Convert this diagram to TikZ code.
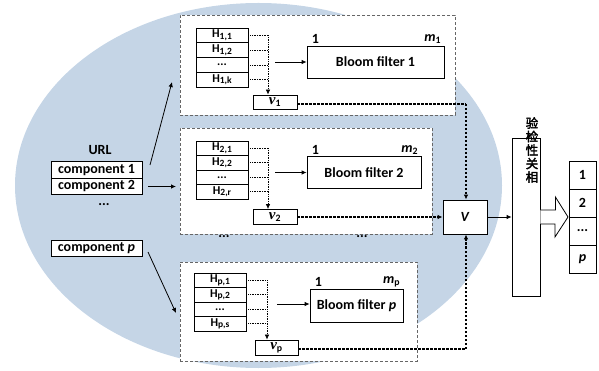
\documentclass[tikz,border=0pt]{standalone}
\usepackage{fontspec}
\setmainfont{Carlito}
\newfontfamily\vfont{Liberation Serif}
\newfontfamily\cjk[AutoFakeBold=2.5]{Noto Sans CJK SC}
\usetikzlibrary{arrows.meta,calc}

\definecolor{halo}{RGB}{197,213,230}

\tikzset{
  txt/.style={font=\fontsize{14}{15}\selectfont\bfseries},
  cell/.style={draw, line width=0.8pt, fill=white, inner sep=0pt, txt},
  hcell/.style={cell, minimum width=52, font=\fontsize{12}{12}\selectfont\bfseries},
  grp/.style={draw=black!60, dash pattern=on 3pt off 2pt, line width=0.7pt, fill=white, inner sep=0pt},
  hdots/.style={densely dotted, line width=0.7pt},
  link/.style={dash pattern=on 2.5pt off 1.5pt, line width=1.1pt},
  tip/.style={-{Latex[length=5pt,width=4.5pt]}},
  lbl/.style={inner sep=0pt, txt},
}

\newcommand{\msub}[1]{\textit{m}\textsubscript{#1}}
\newcommand{\vsub}[1]{{\vfont\itshape\fontsize{15}{16}\selectfont v}\textsubscript{#1}}
\newcommand{\hsub}[1]{H\raisebox{-0.25ex}{\fontsize{9.5}{9.5}\selectfont #1}}

\begin{document}
\begin{tikzpicture}[x=1pt,y=-1pt]
\useasboundingbox (0,0) rectangle (599,371);

% background halo
\fill[halo] (258.5,185.5) ellipse [x radius=243.5, y radius=182.5];

% group frames
\node[grp, minimum width=275, minimum height=100] (g1) at (317.5,65) {};
\node[grp, minimum width=252, minimum height=106] (g2) at (306,181) {};
\node[grp, minimum width=237, minimum height=99] (g3) at (298.5,311.5) {};

% ---------- group 1 ----------
\node[hcell, minimum height=14.75] (h11) at (222,35.4) {\hsub{1,1}};
\node[hcell, minimum height=14.75] (h12) at (222,50.1) {\hsub{1,2}};
\node[hcell, minimum height=14.75] (h13) at (222,64.9) {...};
\node[hcell, minimum height=14.75] (h14) at (222,79.6) {\hsub{1,k}};
\node[cell, minimum width=44, minimum height=14] (v1) at (275,102) {\vsub{1}};
\node[cell, minimum width=137, minimum height=32] (b1) at (375.5,62) {Bloom filter 1};
\node[lbl, anchor=south west] (b1l) at ($(b1.north west)+(5,-1.5)$) {1};
\node[lbl, anchor=south east] (b1r) at ($(b1.north east)+(-3,-1.5)$) {\msub{1}};
\coordinate (bus1) at (268,35.4);
\foreach \r in {h11,h12,h13,h14} \draw[hdots] (\r.east) -- (\r.east -| bus1);
\draw[hdots, tip] (bus1) -- (bus1 |- v1.north);
\coordinate (p1a) at (275,62);
\draw[tip, line width=0.8pt] (p1a) -- (b1.west);

% ---------- group 2 ----------
\node[hcell, minimum height=14.5] (h21) at (222,148.25) {\hsub{2,1}};
\node[hcell, minimum height=14.5] (h22) at (222,162.75) {\hsub{2,2}};
\node[hcell, minimum height=14.5] (h23) at (222,177.25) {...};
\node[hcell, minimum height=14.5] (h24) at (222,191.75) {\hsub{2,r}};
\node[cell, minimum width=44, minimum height=15] (v2) at (275,217) {\vsub{2}};
\node[cell, minimum width=114, minimum height=32] (b2) at (364,172.5) {Bloom filter 2};
\node[lbl, anchor=south west] (b2l) at ($(b2.north west)+(5,-1.5)$) {1};
\node[lbl, anchor=south east] (b2r) at ($(b2.north east)+(-3,-1.5)$) {\msub{2}};
\coordinate (bus2) at (268,148.25);
\foreach \r in {h21,h22,h23,h24} \draw[hdots] (\r.east) -- (\r.east -| bus2);
\draw[hdots, tip] (bus2) -- (bus2 |- v2.north);
\coordinate (p2a) at (275,172.5);
\draw[tip, line width=0.8pt] (p2a) -- (b2.west);

% ---------- group p ----------
\node[hcell, minimum height=14.5] (h31) at (220,280.25) {\hsub{p,1}};
\node[hcell, minimum height=14.5] (h32) at (220,294.75) {\hsub{p,2}};
\node[hcell, minimum height=14.5] (h33) at (220,309.25) {...};
\node[hcell, minimum height=14.5] (h34) at (220,323.75) {\hsub{p,s}};
\node[cell, minimum width=43, minimum height=15] (v3) at (276.5,347.5) {\vsub{p}};
\node[cell, minimum width=93, minimum height=33] (b3) at (356.5,305.5) {Bloom filter \textit{p}};
\node[lbl, anchor=south west] (b3l) at ($(b3.north west)+(5,-1.5)$) {1};
\node[lbl, anchor=south east] (b3r) at ($(b3.north east)+(-3,-1.5)$) {\msub{p}};
\coordinate (bus3) at (267,280.25);
\foreach \r in {h31,h32,h33,h34} \draw[hdots] (\r.east) -- (\r.east -| bus3);
\draw[hdots, tip] (bus3) -- (bus3 |- v3.north);
\coordinate (p3a) at (277,304);
\draw[tip, line width=0.8pt] (p3a) -- (b3.west |- p3a);

% elision marks between groups
\node[lbl] (e1) at (224,236.5) {...};
\node[lbl] (e2) at (362,236.5) {...};

% ---------- URL components ----------
\node[lbl] (url) at (100,150) {URL};
\node[cell, minimum width=91, minimum height=16.5] (c1) at (96.5,170) {component 1};
\node[cell, minimum width=91, minimum height=16.5] (c2) at (96.5,186.5) {component 2};
\node[lbl] (cdots) at (104,205) {...};
\node[cell, minimum width=91, minimum height=16.5] (cp) at (96.5,248.25) {component \textit{p}};

\coordinate (a1s) at (150,165);
\coordinate (a1e) at (172,82);
\coordinate (a2s) at (148,186.5);
\coordinate (a2e) at (176,186.5);
\coordinate (a3s) at (148,252);
\coordinate (a3e) at (176,313);
\draw[tip, line width=0.8pt] (a1s) -- (a1e);
\draw[tip, line width=0.8pt] (a2s) -- (a2e);
\draw[tip, line width=0.8pt] (a3s) -- (a3e);

% ---------- aggregation ----------
\node[cell, minimum width=44, minimum height=34] (V) at (465,217) {\textit{V}};
\coordinate (k1) at (466,104);
\coordinate (k3) at (466,349);
\draw[link] (v1.east |- k1) -- (k1);
\draw[link, tip] (k1) -- (k1 |- V.north);
\draw[link, tip] (v2.east) -- (V.west);
\draw[link] (v3.east |- k3) -- (k3);
\draw[link, tip] (k3) -- (k3 |- V.south);

\node[cell, minimum width=28, minimum height=158] (T) at (526,217) {};
\draw[tip, line width=0.8pt] (V.east) -- (T.west);
\node[inner sep=0pt, align=center, font=\cjk\bfseries\fontsize{12.5}{13.5}\selectfont] (corr) at (532,150) {验\\检\\性\\关\\相};

% hollow arrow to the ranking
\draw[line width=0.8pt, fill=white]
  ($(T.east)+(0,-7)$) -- ++(15,0) -- ++(0,-13) -- (568,217) -- (555,237) -- ++(0,-13) -- ($(T.east)+(0,7)$);

\node[cell, minimum width=27, minimum height=28] (o1) at (582.5,175) {1};
\node[cell, minimum width=27, minimum height=28] (o2) at (582.5,203) {2};
\node[cell, minimum width=27, minimum height=28] (o3) at (582.5,231) {...};
\node[cell, minimum width=27, minimum height=28] (o4) at (582.5,259) {\textit{p}};
\end{tikzpicture}
\end{document}
